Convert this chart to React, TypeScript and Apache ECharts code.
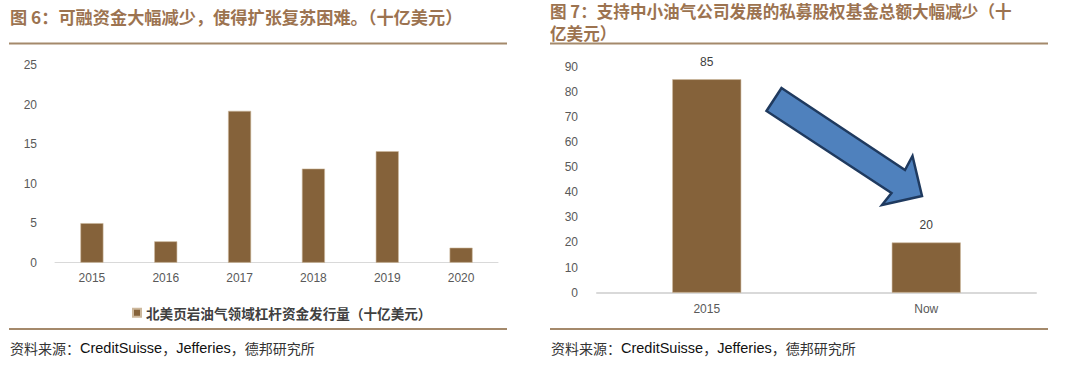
import React, { useEffect, useRef } from "react";
import * as echarts from "echarts";

const leftCategories = ["2015", "2016", "2017", "2018", "2019", "2020"];
const leftValues = [5.0, 2.7, 19.2, 11.9, 14.1, 1.9];
const leftSeriesName = "北美页岩油气领域杠杆资金发行量（十亿美元）";

const rightCategories = ["2015", "Now"];
const rightValues = [85, 20];
const rightSeriesName = "私募股权基金总额";

const leftTitle = "图 6：可融资金大幅减少，使得扩张复苏困难。（十亿美元）";
const rightTitle1 = "图 7：支持中小油气公司发展的私募股权基金总额大幅减少（十";
const rightTitle2 = "亿美元）";

const BAR = "#85623a";
const TITLE = "#9c7350";
const RULE = "#a4896b";
const AXIS_TXT = "#595959";
const CJK = "'Noto Sans CJK SC', sans-serif";
const LATIN = "'Liberation Sans', Arial, sans-serif";

function sourceText(x: number) {
  return {
    type: "text",
    left: x,
    top: 340,
    style: {
      text: "{c|资料来源：}{l|CreditSuisse}{c|，}{l|Jefferies}{c|，}{c|德邦研究所}",
      rich: {
        c: { fontFamily: CJK, fontSize: 14, fill: "#333333" },
        l: { fontFamily: LATIN, fontSize: 14.5, fill: "#111111" },
      },
    },
  };
}

export default function App() {
  const ref = useRef<HTMLDivElement>(null);
  useEffect(() => {
    if (!ref.current) return;
    const chart = echarts.init(ref.current, null, { renderer: "svg" });
    const axisLabel = { color: AXIS_TXT, fontSize: 12, fontFamily: LATIN };
    chart.setOption({
      animation: false,
      backgroundColor: "#ffffff",
      legend: {
        data: [leftSeriesName],
        left: 127,
        top: 301,
        itemWidth: 8,
        itemHeight: 8,
        itemGap: 4,
        icon: "rect",
        textStyle: { fontFamily: CJK, fontSize: 13.6, fontWeight: "bold", color: "#404040" },
      },
      grid: [
        { left: 55, right: 572, top: 65, bottom: 106.3 },
        { left: 597, right: 34, top: 66.7, bottom: 76.3 },
      ],
      xAxis: [
        {
          gridIndex: 0,
          type: "category",
          data: leftCategories,
          axisLine: { lineStyle: { color: "#d9d9d9", width: 1 } },
          axisTick: { show: false },
          axisLabel: { ...axisLabel, margin: 9 },
        },
        {
          gridIndex: 1,
          type: "category",
          data: rightCategories,
          axisLine: { lineStyle: { color: "#d9d9d9", width: 2 } },
          axisTick: { show: false },
          axisLabel: { ...axisLabel, margin: 10 },
        },
      ],
      yAxis: [
        {
          gridIndex: 0,
          type: "value",
          min: 0,
          max: 25,
          interval: 5,
          splitLine: { show: false },
          axisLine: { show: false },
          axisTick: { show: false },
          axisLabel: { ...axisLabel, margin: 18 },
        },
        {
          gridIndex: 1,
          type: "value",
          min: 0,
          max: 90,
          interval: 10,
          splitLine: { show: false },
          axisLine: { show: false },
          axisTick: { show: false },
          axisLabel: { ...axisLabel, margin: 19 },
        },
      ],
      series: [
        {
          name: leftSeriesName,
          type: "bar",
          xAxisIndex: 0,
          yAxisIndex: 0,
          data: leftValues,
          barWidth: 23,
          itemStyle: { color: BAR, borderColor: "#cdb89c", borderWidth: 0.6 },
        },
        {
          name: rightSeriesName,
          type: "bar",
          xAxisIndex: 1,
          yAxisIndex: 1,
          data: rightValues,
          barWidth: 69,
          itemStyle: { color: BAR, borderColor: "#cdb89c", borderWidth: 0.6 },
          label: {
            show: true,
            position: "top",
            distance: 11,
            color: "#404040",
            fontSize: 12,
            fontFamily: LATIN,
          },
        },
      ],
      graphic: [
        {
          type: "text",
          left: 10,
          top: 8,
          style: { text: leftTitle, fontFamily: CJK, fontSize: 17.2, fontWeight: "bold", fill: TITLE },
        },
        {
          type: "text",
          left: 550,
          top: 2,
          style: { text: rightTitle1, fontFamily: CJK, fontSize: 16.6, lineHeight: 18, fontWeight: "bold", fill: TITLE },
        },
        {
          type: "text",
          left: 550,
          top: 24,
          style: { text: rightTitle2, fontFamily: CJK, fontSize: 16.6, lineHeight: 18, fontWeight: "bold", fill: TITLE },
        },
        { type: "line", shape: { x1: 9, y1: 43.5, x2: 507, y2: 43.5 }, style: { stroke: RULE, lineWidth: 2 } },
        { type: "line", shape: { x1: 550, y1: 43.5, x2: 1048, y2: 43.5 }, style: { stroke: RULE, lineWidth: 2 } },
        { type: "line", shape: { x1: 9, y1: 329, x2: 507, y2: 329 }, style: { stroke: RULE, lineWidth: 2 } },
        { type: "line", shape: { x1: 550, y1: 329, x2: 1048, y2: 329 }, style: { stroke: RULE, lineWidth: 2 } },
        sourceText(10),
        sourceText(551),
        {
          type: "polygon",
          shape: {
            points: [
              [781.5, 88],
              [905, 170],
              [912.5, 156],
              [922, 196],
              [882, 205],
              [891.5, 193],
              [766.5, 111],
            ],
          },
          style: { fill: "#4f81bd", stroke: "#1f3a5f", lineWidth: 2.5, lineJoin: "miter" },
          z: 100,
        },
      ],
    });
    return () => chart.dispose();
  }, []);
  return (
    <div
      ref={ref}
      style={{ position: "fixed", left: 0, top: 0, width: 1070, height: 369, background: "#fff" }}
    />
  );
}
